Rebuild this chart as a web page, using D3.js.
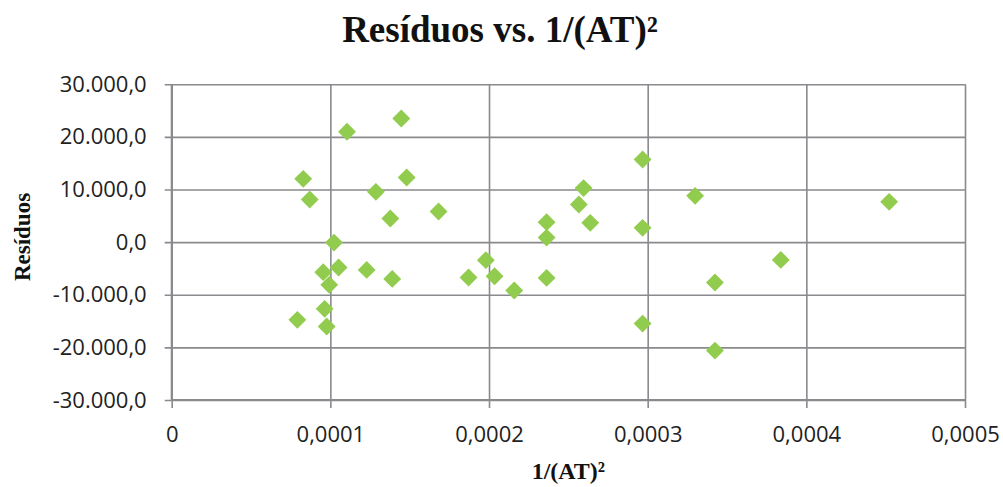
<!DOCTYPE html>
<html>
<head>
<meta charset="utf-8">
<script src="https://cdn.jsdelivr.net/npm/d3@7"></script>
<style>
  html, body { margin: 0; padding: 0; background: #fff; }
  svg { display: block; }
</style>
</head>
<body>
<svg id="chart" width="1003" height="487"></svg>
<script>
// Inverse squared AT values (x) and residuals (y)
const invAT2 = [
  0.0000792, 0.0000829, 0.0000870, 0.0000955, 0.0000964, 0.0000977, 0.0000993,
  0.0001023, 0.0001052, 0.0001105, 0.0001229, 0.0001287, 0.0001390, 0.0001378,
  0.0001447, 0.0001481, 0.0001682, 0.0001871, 0.0001980, 0.0002035, 0.0002159,
  0.0002363, 0.0002363, 0.0002363, 0.0002566, 0.0002596, 0.0002638, 0.0002968,
  0.0002968, 0.0002968, 0.0003299, 0.0003424, 0.0003424, 0.0003839, 0.0004522
];
const residuals = [
  -14770, 12030, 8100, -5700, -12680, -16040, -8120,
  -80, -4830, 20970, -5270, 9560, -6980, 4490,
  23500, 12280, 5820, -6720, -3420, -6470, -9200,
  3800, 870, -6790, 7150, 10270, 3670, 15700,
  2720, -15480, 8800, -7680, -20610, -3370, 7660
];
const xTicks = [0, 0.0001, 0.0002, 0.0003, 0.0004, 0.0005];
const yTicks = [-30000, -20000, -10000, 0, 10000, 20000, 30000];

const chartTitle = "Resíduos vs. 1/(AT)²";
const xTitle = "1/(AT)²";
const yTitle = "Resíduos";

const svg = d3.select("#chart");
const plot = { left: 171.7, right: 965, top: 84.3, bottom: 400 };

const x = d3.scaleLinear().domain([0, 0.0005]).range([plot.left, plot.right]);
const y = d3.scaleLinear().domain([-30000, 30000]).range([plot.bottom, plot.top]);

const gridColor = "#8a8a8e";
const tickFont = "'Open Sans', 'Liberation Sans', sans-serif";
const serif = "'Liberation Serif', 'Times New Roman', serif";

// Number formatting with pt-BR style separators
const fmtY = v => {
  const s = d3.format(",.1f")(v);
  return s.replace(/,/g, "#").replace(/\./g, ",").replace(/#/g, ".").replace("−", "-");
};
const fmtX = v => v === 0 ? "0" : d3.format(".4f")(v).replace(".", ",");

// Horizontal gridlines + left ticks
const yAxis = d3.axisLeft(y)
  .tickValues(yTicks)
  .tickSize(-(plot.right - plot.left))
  .tickSizeOuter(0)
  .tickPadding(25)
  .tickFormat(fmtY);
const gy = svg.append("g").attr("transform", `translate(${plot.left},0)`).call(yAxis);
gy.select(".domain").remove();
gy.selectAll(".tick line").attr("stroke", gridColor).attr("stroke-width", 1.6).attr("x1", -7);
gy.selectAll(".tick text")
  .attr("font-family", tickFont).attr("font-size", 22).attr("fill", "#222");

// Vertical gridlines + bottom ticks
const xAxis = d3.axisBottom(x)
  .tickValues(xTicks)
  .tickSize(-(plot.bottom - plot.top))
  .tickSizeOuter(0)
  .tickPadding(26)
  .tickFormat(fmtX);
const gx = svg.append("g").attr("transform", `translate(0,${plot.bottom})`).call(xAxis);
gx.select(".domain").remove();
gx.selectAll(".tick line").attr("stroke", gridColor).attr("stroke-width", 1.6).attr("y1", 8);
gx.selectAll(".tick text")
  .attr("font-family", tickFont).attr("font-size", 22).attr("fill", "#222");

// Axis frame lines
svg.append("line")
  .attr("x1", plot.left).attr("x2", plot.left)
  .attr("y1", plot.top).attr("y2", plot.bottom)
  .attr("stroke", gridColor).attr("stroke-width", 2);
svg.append("line")
  .attr("x1", plot.left).attr("x2", plot.right)
  .attr("y1", plot.bottom).attr("y2", plot.bottom)
  .attr("stroke", gridColor).attr("stroke-width", 2);

// Diamond markers
const pts = invAT2.map((v, i) => ({ x: v, y: residuals[i] }));
svg.append("g").selectAll("path")
  .data(pts)
  .join("path")
  .attr("d", d3.symbol().type(d3.symbolSquare).size(160))
  .attr("transform", d => `translate(${x(d.x)},${y(d.y)}) rotate(45)`)
  .attr("fill", "#92cc4f");

// Titles
svg.append("text")
  .attr("x", 500).attr("y", 42)
  .attr("text-anchor", "middle")
  .attr("font-family", serif).attr("font-weight", "bold").attr("font-size", 37)
  .attr("fill", "#111")
  .text(chartTitle);

svg.append("text")
  .attr("x", (plot.left + plot.right) / 2).attr("y", 479)
  .attr("text-anchor", "middle")
  .attr("font-family", serif).attr("font-weight", "bold").attr("font-size", 24)
  .attr("fill", "#111")
  .text(xTitle);

svg.append("text")
  .attr("transform", `translate(30,237) rotate(-90)`)
  .attr("text-anchor", "middle")
  .attr("font-family", serif).attr("font-weight", "bold").attr("font-size", 23)
  .attr("fill", "#111")
  .text(yTitle);
</script>
</body>
</html>
